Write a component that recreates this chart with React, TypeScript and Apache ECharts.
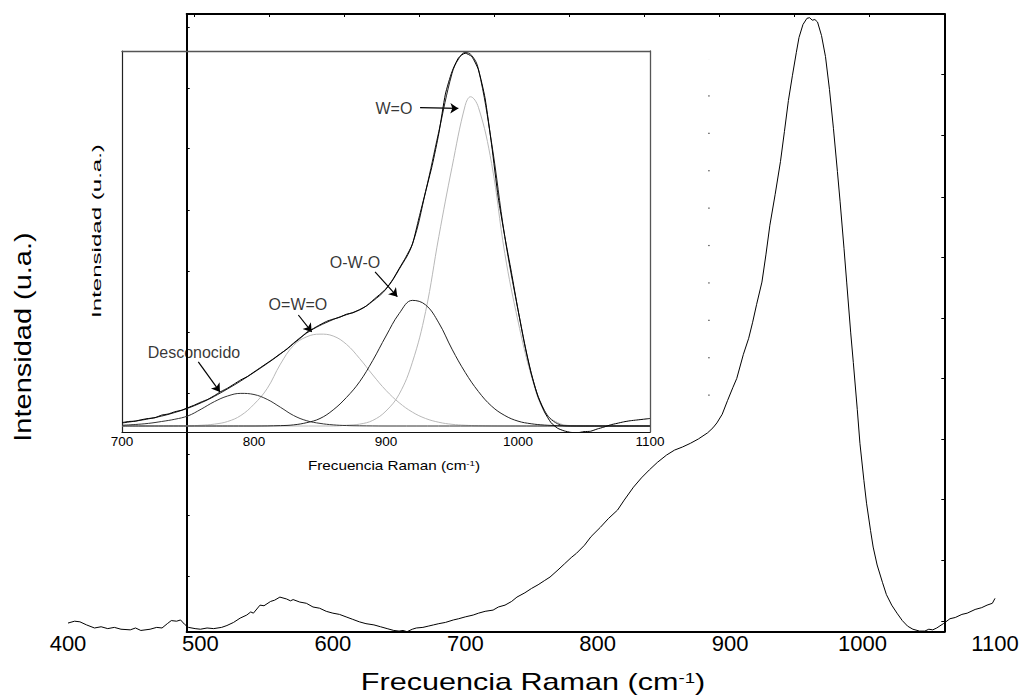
import React, { useEffect, useRef } from "react";
import * as echarts from "echarts";

const FONT = "'Liberation Sans', Arial, Helvetica, sans-serif";

// ---------- main spectrum (wavenumber, intensity a.u.) ----------
const mainSpectrum: [number, number][] = [
  [400, 1.4], [405, 1.7], [409, 1.6], [414, 1.1], [420, 0.6], [425, 0.8], [430, 0.5], [435, 0.7],
  [440, 0.4], [447, 0.3], [451, 0.6], [455, 0.2], [462, 0.4], [467, 0.7], [471, 0.6], [475, 1.3],
  [478, 1.8], [482, 1.7], [485, 1.9], [488, 1.2], [491, 0.7], [496, 0.5], [500, 0.4], [505, 0.6],
  [510, 0.5], [516, 0.7], [520, 1.0], [525, 1.5], [530, 2.2], [535, 2.7], [538, 3.2], [540, 3.0],
  [545, 4.3], [548, 4.2], [553, 4.9], [556, 5.1], [560, 5.6], [565, 5.3], [568, 5.0], [570, 5.2],
  [575, 4.8], [580, 4.6], [585, 4.0], [590, 3.8], [595, 3.3], [600, 3.0], [605, 2.8], [610, 2.4],
  [615, 2.0], [620, 1.6], [625, 1.3], [631, 1.1], [636, 0.8], [641, 0.5], [646, 0.2], [650, 0.1],
  [653, 0.2], [656, 0.0], [660, 0.4], [663, 0.6], [668, 0.7], [672, 0.9], [676, 1.1], [680, 1.3],
  [685, 1.5], [691, 1.9], [695, 2.1], [700, 2.4], [706, 2.7], [710, 3.0], [715, 3.3], [721, 3.5],
  [725, 4.0], [730, 4.3], [735, 4.9], [739, 5.6], [745, 6.3], [750, 7.0], [755, 7.6], [760, 8.3],
  [764, 8.85], [770, 10.0], [775, 11.0], [780, 12.0], [784, 12.7], [790, 14.0], [795, 15.4],
  [802, 16.9], [808, 18.3], [815, 19.7], [820, 21.3], [827, 23.4], [833, 24.9], [839, 26.2],
  [845, 27.4], [852, 28.6], [858, 29.4], [864, 29.9], [870, 30.5], [876, 31.2], [883, 32.2],
  [887, 33.0], [890, 33.8], [894, 35.2], [898, 37.4], [902, 39.5], [905, 41.0], [910, 44.9],
  [914, 47.5], [917, 50.1], [920, 53.0], [924, 56.6], [927, 61.0], [930, 65.8], [934, 70.8],
  [938, 76.1], [941, 81.0], [944, 86.0], [947, 90.0], [950, 93.8], [952, 96.2], [955, 98.3],
  [958, 99.3], [960, 99.4], [962, 99.0], [964, 99.1], [966, 98.7], [969, 96.5], [972, 93.1],
  [975, 87.8], [978, 81.5], [981, 74.5], [983, 69.7], [986, 62.0], [988, 56.6], [991, 48.5],
  [993, 43.6], [996, 36.0], [998, 30.5], [1001, 24.5], [1003, 20.8], [1006, 16.4], [1008, 13.7],
  [1011, 10.8], [1015, 8.0], [1018, 6.0], [1022, 4.3], [1026, 3.0], [1030, 1.8], [1034, 0.9],
  [1038, 0.4], [1043, 0.1], [1047, 0.1], [1050, 0.4], [1053, 0.3], [1056, 0.6], [1061, 1.3],
  [1066, 2.1], [1070, 2.3], [1075, 2.8], [1079, 3.0], [1085, 3.6], [1090, 3.9], [1094, 4.3],
  [1098, 4.6], [1100, 5.4],
];
const mainTickLabels = ["400", "500", "600", "700", "800", "900", "1000", "1100"];

// dotted vertical guide left in the original figure (wavenumber, intensity)
const dottedGuide: [number, number][] = [[884, 38.2], [884, 92.7]];

// frame ticks (pixel units of the frame box)
const frameTopTicks = [7.6, 82.6, 157.6, 232.6, 307.6, 382.6, 457.6, 532.6, 607.6, 682.6];
const frameRightTicks = [60, 121, 183, 243, 304, 364, 425, 485, 546, 607];
const frameLeftTicks = [13, 74, 134, 196, 257, 318, 379, 440, 501, 562];

// ---------- inset (deconvolution) ----------
const insetMeasured: [number, number][] = [
  [700, 0.9], [705, 1.2], [710, 1.3], [715, 1.7], [720, 2.0], [725, 2.2], [730, 2.9], [735, 3.2],
  [740, 3.8], [745, 4.2], [750, 4.9], [755, 5.6], [760, 6.4], [765, 7.1], [770, 8.1], [775, 9.2],
  [780, 10.1], [785, 11.2], [790, 12.3], [795, 13.2], [800, 14.4], [805, 15.6], [810, 16.8],
  [815, 18.0], [820, 19.3], [825, 20.5], [830, 22.0], [835, 23.4], [840, 25.0], [845, 26.0],
  [850, 27.0], [855, 27.9], [860, 28.5], [865, 29.0], [870, 29.8], [875, 30.2], [880, 31.0],
  [885, 32.0], [890, 33.5], [895, 35.0], [900, 36.6], [905, 39.0], [910, 42.0], [915, 45.0],
  [920, 48.5], [925, 55.5], [930, 62.5], [935, 69.5], [940, 78.0], [945, 88.5], [950, 94.5],
  [955, 98.2], [960, 99.4], [965, 98.5], [970, 95.0], [975, 87.5], [980, 75.0], [985, 61.0],
  [990, 50.5], [995, 41.0], [1000, 31.0], [1005, 22.0], [1010, 14.0], [1015, 8.0], [1020, 3.8],
  [1025, 0.9], [1030, -0.6], [1035, -1.3], [1040, -1.7], [1045, -1.8], [1050, -1.5], [1055, -1.4],
  [1060, -0.8], [1065, -0.3], [1070, 0.3], [1075, 0.7], [1080, 1.1], [1085, 1.4], [1090, 1.6],
  [1095, 1.8], [1100, 2.0],
];
const insetFit: [number, number][] = [
  [700, 0.8], [720, 1.9], [740, 3.6], [760, 6.2], [780, 9.9], [800, 14.3], [820, 19.2],
  [840, 24.8], [860, 28.4], [880, 31.0], [890, 33.3], [900, 36.5], [910, 41.8], [920, 48.5],
  [930, 62.5], [940, 78.5], [950, 94.0], [955, 97.9], [960, 99.6], [965, 98.8], [970, 95.2],
  [980, 75.5], [990, 50.5], [1000, 31.0], [1010, 14.2], [1020, 4.2], [1030, 0.6], [1040, 0],
  [1100, 0],
];
const peakDesconocido: [number, number][] = [
  [700, 0.2], [710, 0.4], [720, 0.7], [730, 1.2], [740, 1.8], [750, 2.7], [760, 4.5], [770, 6.5],
  [780, 8.0], [790, 8.7], [800, 8.4], [810, 7.1], [820, 5.0], [830, 2.8], [840, 1.4], [850, 0.7],
  [860, 0.3], [870, 0.12], [880, 0.05], [900, 0], [1100, 0],
];
const peakOWOdouble: [number, number][] = [
  [700, 0], [750, 0.05], [760, 0.2], [770, 0.5], [780, 1.2], [790, 2.8], [800, 5.8], [810, 10.0],
  [820, 16.5], [830, 21.5], [840, 23.8], [850, 24.5], [860, 24.0], [870, 21.8], [880, 18.0],
  [890, 13.6], [900, 9.5], [910, 6.2], [920, 3.7], [930, 2.0], [940, 1.0], [950, 0.45], [960, 0.2],
  [970, 0.08], [990, 0], [1100, 0],
];
const peakOWOsingle: [number, number][] = [
  [700, 0], [800, 0], [820, 0.1], [830, 0.3], [840, 0.9], [850, 2.0], [860, 4.3], [870, 7.6],
  [880, 11.8], [890, 17.5], [900, 24.0], [910, 30.0], [920, 33.5], [930, 32.3], [940, 27.5],
  [950, 20.5], [960, 14.3], [970, 9.2], [980, 5.3], [990, 2.8], [1000, 1.3], [1010, 0.6],
  [1020, 0.25], [1030, 0.1], [1050, 0], [1100, 0],
];
const peakWO: [number, number][] = [
  [700, 0], [860, 0], [870, 0.2], [880, 0.5], [890, 1.5], [900, 4.0], [910, 8.5], [920, 17.0],
  [930, 30.5], [940, 50.5], [950, 69.0], [960, 85.5], [964, 87.8], [970, 85.0], [980, 70.0],
  [990, 46.0], [1000, 28.0], [1010, 13.5], [1020, 3.8], [1030, 0.9], [1040, 0.1], [1050, 0],
  [1100, 0],
];
const insetTickLabels = ["700", "800", "900", "1000", "1100"];

// annotations (wavenumber, intensity) in inset units
const peakLabels = [
  { name: "Desconocido", value: [754.5, 19.5] },
  { name: "O=W=O", value: [833.3, 32.3] },
  { name: "O-W-O", value: [876.5, 43.6] },
  { name: "W=O", value: [906, 84.7] },
];
const arrowSegments: [number, number][][] = [
  [[757.8, 17.1], [774.2, 9.1]],
  [[833.6, 29.6], [843.7, 25.1]],
  [[891.7, 41.1], [908.6, 34.5]],
  [[925.8, 84.9], [954.8, 84.7]],
];

const lineSeries = (data: [number, number][], axis: number, color: string, width: number, smooth: number | boolean = false) => ({
  type: "line",
  xAxisIndex: axis,
  yAxisIndex: axis,
  data,
  showSymbol: false,
  symbol: "none",
  smooth,
  silent: true,
  lineStyle: { color, width },
});

function buildOption(): any {
  const hidden = { show: false };
  return {
    animation: false,
    backgroundColor: "#ffffff",
    grid: [
      { left: 68, right: 30, top: 14, bottom: 66.3, outerBoundsMode: "none" },
      { left: 186.7, top: 14, width: 757.6, height: 617.7, outerBoundsMode: "none" },
      { left: 122, top: 51, width: 528, height: 381, outerBoundsMode: "none" },
    ],
    xAxis: [
      {
        gridIndex: 0, type: "value", min: 400, max: 1100, interval: 100,
        axisLine: hidden, axisTick: hidden, splitLine: hidden,
        axisLabel: {
          margin: 1, fontSize: 22, color: "#000", fontFamily: FONT,
          formatter: (v: number) => mainTickLabels[Math.round((v - 400) / 100)] ?? "",
        },
      },
      {
        gridIndex: 1, type: "value", min: 0, max: 757.6, position: "bottom",
        axisLine: { show: true, onZero: false, lineStyle: { color: "#000", width: 2 } },
        axisTick: hidden, axisLabel: hidden, splitLine: hidden,
      },
      {
        gridIndex: 1, type: "value", min: 0, max: 757.6, position: "top",
        axisLine: { show: true, onZero: false, lineStyle: { color: "#000", width: 2 } },
        axisTick: { show: true, inside: true, length: 3, customValues: frameTopTicks, lineStyle: { color: "#000", width: 1 } },
        axisLabel: hidden, splitLine: hidden,
      },
      {
        gridIndex: 2, type: "value", min: 700, max: 1100, interval: 100, position: "bottom",
        axisLine: { show: true, onZero: false, lineStyle: { color: "#111", width: 1.2 } },
        axisTick: hidden, splitLine: hidden,
        axisLabel: {
          margin: 2, fontSize: 13.5, color: "#000", fontFamily: FONT,
          formatter: (v: number) => insetTickLabels[Math.round((v - 700) / 100)] ?? "",
        },
      },
      {
        gridIndex: 2, type: "value", min: 700, max: 1100, position: "top",
        axisLine: { show: true, onZero: false, lineStyle: { color: "#555", width: 1.3 } },
        axisTick: hidden, axisLabel: hidden, splitLine: hidden,
      },
    ],
    yAxis: [
      { gridIndex: 0, type: "value", min: 0, max: 100, show: false, splitLine: hidden },
      {
        gridIndex: 1, type: "value", min: 0, max: 617.7, inverse: true, position: "left",
        axisLine: { show: true, onZero: false, lineStyle: { color: "#000", width: 2 } },
        axisTick: { show: true, inside: true, length: 3, customValues: frameLeftTicks, lineStyle: { color: "#000", width: 1 } },
        axisLabel: hidden, splitLine: hidden,
      },
      {
        gridIndex: 1, type: "value", min: 0, max: 617.7, inverse: true, position: "right",
        axisLine: { show: true, onZero: false, lineStyle: { color: "#000", width: 2 } },
        axisTick: { show: true, inside: true, length: 3, customValues: frameRightTicks, lineStyle: { color: "#000", width: 1 } },
        axisLabel: hidden, splitLine: hidden,
      },
      {
        gridIndex: 2, type: "value", min: -1.6, max: 100, position: "left",
        axisLine: { show: true, onZero: false, lineStyle: { color: "#222", width: 1.2 } },
        axisTick: hidden, axisLabel: hidden, splitLine: hidden,
      },
      {
        gridIndex: 2, type: "value", min: -1.6, max: 100, position: "right",
        axisLine: { show: true, onZero: false, lineStyle: { color: "#555", width: 1.3 } },
        axisTick: hidden, axisLabel: hidden, splitLine: hidden,
      },
    ],
    series: [
      lineSeries(mainSpectrum, 0, "#000", 1),
      {
        type: "line", xAxisIndex: 0, yAxisIndex: 0, data: dottedGuide, showSymbol: false, symbol: "none",
        silent: true, lineStyle: { color: "#000", width: 1, type: [1.2, 36.2] },
      },
      // inset peaks
      { ...lineSeries(peakOWOdouble, 3, "#b8b8b8", 1, 0.4), xAxisIndex: 3, yAxisIndex: 3 },
      { ...lineSeries(peakWO, 3, "#b8b8b8", 1, 0.4), xAxisIndex: 3, yAxisIndex: 3 },
      { ...lineSeries(peakDesconocido, 3, "#333", 1, 0.4), xAxisIndex: 3, yAxisIndex: 3 },
      { ...lineSeries(peakOWOsingle, 3, "#222", 1, 0.4), xAxisIndex: 3, yAxisIndex: 3 },
      { ...lineSeries(insetFit, 3, "#222", 1, 0.4), xAxisIndex: 3, yAxisIndex: 3 },
      { ...lineSeries(insetMeasured, 3, "#000", 1, 0.2), xAxisIndex: 3, yAxisIndex: 3 },
      {
        type: "lines", coordinateSystem: "cartesian2d", xAxisIndex: 3, yAxisIndex: 3, silent: true,
        symbol: ["none", "arrow"], symbolSize: 8,
        lineStyle: { color: "#000", width: 1.2, opacity: 1, curveness: 0 },
        data: arrowSegments.map((c) => ({ coords: c })),
      },
      {
        type: "scatter", xAxisIndex: 3, yAxisIndex: 3, silent: true, symbolSize: 1,
        itemStyle: { color: "rgba(0,0,0,0)" },
        label: { show: true, position: "inside", formatter: "{b}", color: "#000", fontSize: 16, fontFamily: FONT },
        data: peakLabels,
      },
    ],
    graphic: [
      {
        type: "text", x: 533, y: 682, scaleX: 1.33, silent: true,
        style: {
          text: "{a|Frecuencia Raman (cm}{b|-1}{a|)}", align: "center", verticalAlign: "middle", fill: "#000",
          rich: {
            a: { fontSize: 23, fontFamily: FONT, fill: "#000" },
            b: { fontSize: 14, fontFamily: FONT, fill: "#000", verticalAlign: "top" },
          },
        },
      },
      {
        type: "text", x: 23, y: 337, rotation: Math.PI / 2, scaleX: 1.26, silent: true,
        style: { text: "Intensidad (u.a.)", align: "center", verticalAlign: "middle", fill: "#000", fontSize: 23, fontFamily: FONT },
      },
      {
        type: "text", x: 394, y: 466, scaleX: 1.22, silent: true,
        style: {
          text: "{a|Frecuencia Raman (cm}{b|-1}{a|)}", align: "center", verticalAlign: "middle", fill: "#000",
          rich: {
            a: { fontSize: 12.5, fontFamily: FONT, fill: "#000" },
            b: { fontSize: 8, fontFamily: FONT, fill: "#000", verticalAlign: "top" },
          },
        },
      },
      {
        type: "text", x: 97, y: 231, rotation: Math.PI / 2, scaleX: 1.85, silent: true,
        style: { text: "Intensidad (u.a.)", align: "center", verticalAlign: "middle", fill: "#000", fontSize: 13, fontFamily: FONT },
      },
    ],
  };
}

export default function App() {
  const ref = useRef<HTMLDivElement>(null);
  useEffect(() => {
    if (!ref.current) return;
    const chart = echarts.init(ref.current, undefined, { renderer: "svg" });
    chart.setOption(buildOption());
    return () => chart.dispose();
  }, []);
  return (
    <div
      ref={ref}
      style={{ position: "absolute", left: 0, top: 0, width: 1025, height: 698, background: "#fff" }}
    />
  );
}
